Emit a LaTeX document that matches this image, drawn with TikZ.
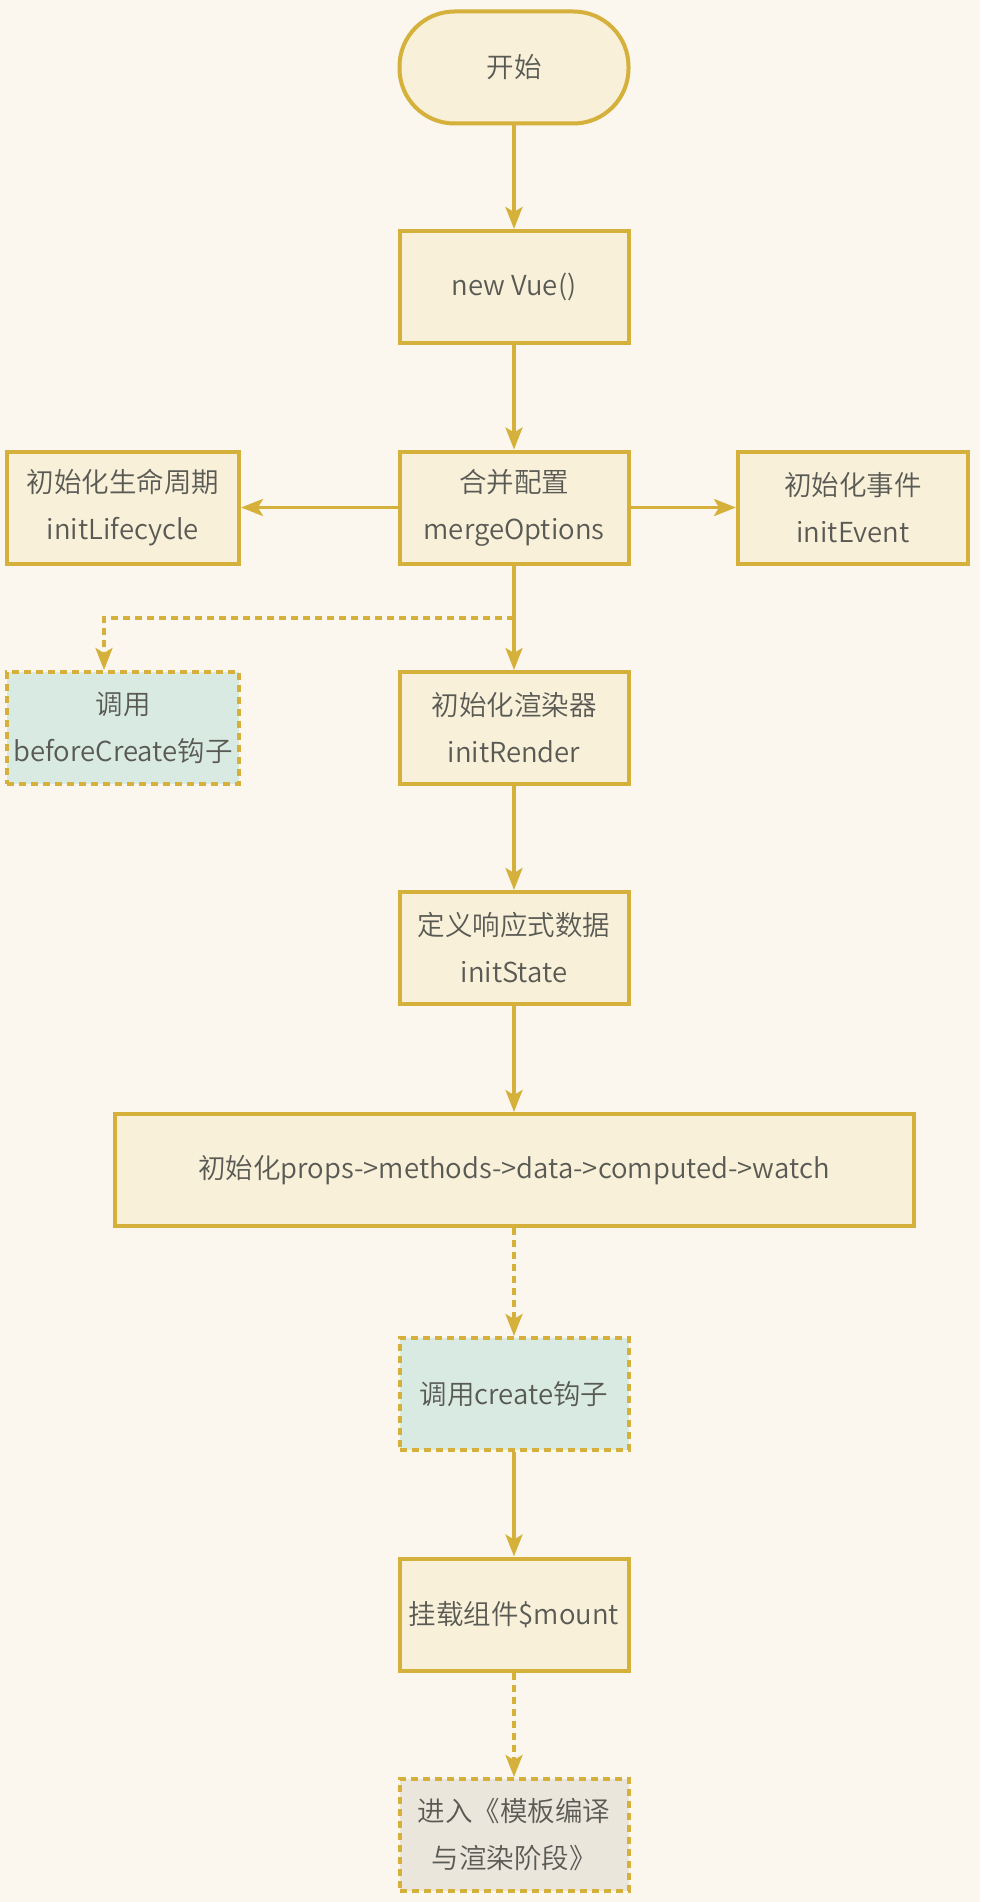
\documentclass[tikz,border=0pt]{standalone}
\usepackage{fontspec}
\setmainfont{Noto Sans CJK SC DemiLight}
\usetikzlibrary{arrows.meta}
\definecolor{bg}{HTML}{FCF7EE}
\definecolor{cr}{HTML}{F8F0D9}
\definecolor{bd}{HTML}{D5B13C}
\definecolor{tl}{HTML}{D9EAE3}
\definecolor{gr}{HTML}{EBE6DB}
\definecolor{tx}{HTML}{5A5A55}
\begin{document}
\begin{tikzpicture}[x=1pt,y=-1pt,
  box/.style={draw=bd, line width=4pt, fill=cr, minimum width=229pt, minimum height=112pt,
    text=tx, align=center, font=\fontsize{27.5}{47}\selectfont, inner sep=0pt},
  dbox/.style={box, dash pattern=on 7pt off 5pt},
  conn/.style={draw=bd, line width=3.5pt, -{Stealth[length=22pt,width=17pt,inset=5pt]}},
  dconn/.style={conn, dash pattern=on 7pt off 5pt}]
\fill[bg] (0,0) rectangle (980,1902);
\useasboundingbox (0,0) rectangle (980,1902);

\node[box, rounded corners=55pt] (start) at (514,67.5) {开始};
\node[box] (vue) at (514,287) {new Vue()};
\node[box] (merge) at (514,507.5) {合并配置\\mergeOptions};
\node[box, minimum width=232pt] (life) at (123,507.5) {初始化生命周期\\initLifecycle};
\node[box, minimum width=230pt] (event) at (853,507.5) {初始化事件\\initEvent};
\node[dbox, fill=tl, minimum width=232pt] (before) at (123,728) {调用\\beforeCreate钩子};
\node[box] (render) at (514,728) {初始化渲染器\\initRender};
\node[box] (state) at (514,948) {定义响应式数据\\initState};
\node[box, minimum width=799pt] (wide) at (514,1170) {初始化props->methods->data->computed->watch};
\node[dbox, fill=tl] (create) at (514,1394) {调用create钩子};
\node[box] (mount) at (514,1614.5) {挂载组件\$mount};
\node[dbox, fill=gr] (final) at (514,1835) {进入《模板编译\\与渲染阶段》};

\coordinate (split) at (514,618);

\draw[conn] (start) -- (vue);
\draw[conn] (vue) -- (merge);
\draw[conn] (merge) -- (life);
\draw[conn] (merge) -- (event);
\draw[conn] (merge) -- (render);
\draw[dconn] (split) -| ([xshift=-19pt]before.north);
\draw[conn] (render) -- (state);
\draw[conn] (state) -- (wide);
\draw[dconn] (wide) -- (create);
\draw[conn] (create) -- (mount);
\draw[dconn] (mount) -- (final);
\end{tikzpicture}
\end{document}
